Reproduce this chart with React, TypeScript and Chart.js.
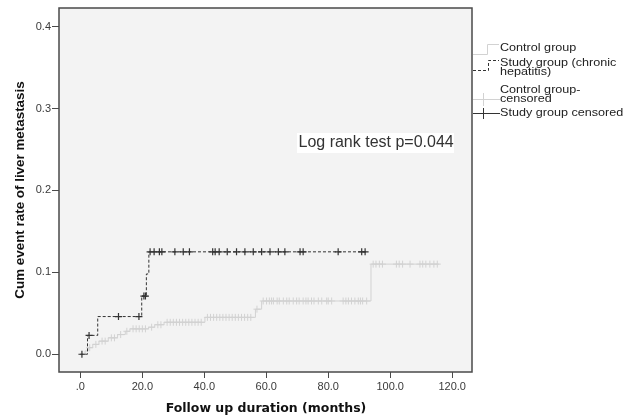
import { useEffect, useRef } from "react";
import { Chart, registerables } from "chart.js";

Chart.register(...registerables);

// Study group (chronic hepatitis): event steps
const studyTimes = [0, 2.3, 5.6, 19.8, 21.3, 22.1, 92.3];
const studyRates = [0, 0.023, 0.046, 0.071, 0.098, 0.125, 0.125];
// Control group: event steps
const controlTimes = [0, 1.5, 2.5, 4, 6, 9, 12, 14.5, 16, 22, 24, 27, 40.2, 56.5, 58.5, 93.8, 115.8];
const controlRates = [0, 0.004, 0.008, 0.012, 0.016, 0.02, 0.024, 0.028, 0.031, 0.033, 0.036, 0.039, 0.045, 0.055, 0.065, 0.11, 0.11];
// Censored observations (months)
const studyCensorTimes = [0.5, 2.8, 12.3, 18.9, 20.5, 21.0, 22.5, 23.8, 25.5, 26.3, 30.5, 33.2, 35.2, 42.7, 43.5, 44.8, 47.4, 50.4, 53.1, 55.8, 58.5, 61.2, 63.9, 66.0, 70.9, 71.9, 83.2, 90.8, 91.9];
const controlCensorTimes = [3, 5, 7, 8, 10, 11, 13, 15, 17, 18, 19, 20, 21, 23, 25, 26, 28, 29, 30, 31, 32, 33, 34, 35, 36, 37, 38, 39, 41, 42, 43, 44, 45, 46, 47, 48, 49, 50, 51, 52, 53, 54, 55, 57, 59, 60.1, 61, 61.7, 62.3, 63.5, 64.2, 65.5, 66.6, 67.4, 68.7, 69.8, 70.6, 71.9, 72.8, 73.5, 74.6, 75.4, 76.8, 77.9, 79.5, 80, 81.1, 84.8, 85.7, 86.5, 87.5, 88.6, 89.7, 90.4, 91.1, 92.4, 94.5, 95.4, 96.5, 97.5, 102, 102.9, 104, 106.4, 109.6, 110.5, 111.5, 112.8, 114.1, 115.2];

const xTicks = [0, 20, 40, 60, 80, 100, 120];
const xTickLabels = [".0", "20.0", "40.0", "60.0", "80.0", "100.0", "120.0"];
const yTicks = [0, 0.1, 0.2, 0.3, 0.4];
const yTickLabels = ["0.0", "0.1", "0.2", "0.3", "0.4"];

const legendLabels = ["Control group", "Study group (chronic", "hepatitis)", "Control group-", "censored", "Study group censored"];
const annotationText = "Log rank test p=0.044";
const xTitle = "Follow up duration (months)";
const yTitle = "Cum event rate of liver metastasis";

const stepAt = (times: number[], rates: number[], t: number) => {
  let v = rates[0];
  for (let i = 0; i < times.length; i++) if (times[i] <= t) v = rates[i];
  return v;
};

const STUDY = "#333333";
const CONTROL = "#d2d2d2";

export default function App() {
  const ref = useRef<HTMLCanvasElement | null>(null);
  useEffect(() => {
    document.body.style.margin = "0";
    const canvas = ref.current!;
    const decor = {
      id: "decor",
      beforeDatasetsDraw(chart: any) {
        const { ctx, chartArea: a } = chart;
        ctx.save();
        ctx.fillStyle = "#f3f3f3";
        ctx.fillRect(a.left, a.top, a.right - a.left, a.bottom - a.top);
        ctx.restore();
      },
      afterDatasetsDraw(chart: any) {
        const { ctx, chartArea: a } = chart;
        ctx.save();
        ctx.strokeStyle = "#4a4a4a";
        ctx.lineWidth = 1.5;
        ctx.strokeRect(a.left, a.top, a.right - a.left, a.bottom - a.top);
        // annotation
        ctx.fillStyle = "#ffffff";
        ctx.fillRect(297, 133, 157, 20);
        ctx.fillStyle = "#333";
        ctx.font = "16px 'Liberation Sans', Arial, sans-serif";
        ctx.textBaseline = "alphabetic";
        ctx.textAlign = "left";
        ctx.fillText(annotationText, 298.5, 147);
        // legend
        ctx.lineWidth = 1;
        ctx.strokeStyle = CONTROL;
        ctx.beginPath();
        ctx.moveTo(473, 54.5); ctx.lineTo(487.5, 54.5); ctx.lineTo(487.5, 44.5); ctx.lineTo(499, 44.5);
        ctx.stroke();
        ctx.strokeStyle = STUDY;
        ctx.setLineDash([3, 2]);
        ctx.beginPath();
        ctx.moveTo(473, 70.5); ctx.lineTo(488.5, 70.5); ctx.lineTo(488.5, 60.5); ctx.lineTo(499, 60.5);
        ctx.stroke();
        ctx.setLineDash([]);
        ctx.strokeStyle = CONTROL;
        ctx.beginPath();
        ctx.moveTo(473, 99.5); ctx.lineTo(500, 99.5);
        ctx.moveTo(483.5, 93); ctx.lineTo(483.5, 106);
        ctx.stroke();
        ctx.strokeStyle = STUDY;
        ctx.beginPath();
        ctx.moveTo(473, 113.5); ctx.lineTo(500, 113.5);
        ctx.moveTo(483.5, 108); ctx.lineTo(483.5, 119);
        ctx.stroke();
        ctx.fillStyle = "#222";
        ctx.font = "10.5px 'Liberation Sans', Arial, sans-serif";
        ctx.textBaseline = "middle";
        const ys = [48, 62.8, 72, 90.6, 99.6, 113.5];
        legendLabels.forEach((t, i) => {
          ctx.save();
          ctx.translate(500, ys[i]);
          ctx.scale(1.2, 1);
          ctx.fillText(t, 0, 0);
          ctx.restore();
        });
        // axis titles
        ctx.fillStyle = "#111";
        ctx.textAlign = "center";
        ctx.textBaseline = "alphabetic";
        ctx.font = "bold 12.5px 'DejaVu Sans', Verdana, sans-serif";
        ctx.fillText(xTitle, 266, 411.5);
        ctx.translate(24, 190);
        ctx.rotate(-Math.PI / 2);
        ctx.font = "bold 13.4px 'Liberation Sans', Arial, sans-serif";
        ctx.fillText(yTitle, 0, 0);
        ctx.restore();
      },
    };

    const chart = new Chart(canvas, {
      type: "line",
      data: {
        datasets: [
          {
            label: "Control group",
            data: controlTimes.map((t, i) => ({ x: t, y: controlRates[i] })),
            borderColor: CONTROL,
            borderWidth: 1,
            stepped: true,
            pointRadius: 0,
            fill: false,
            order: 4,
          },
          {
            label: "Control group-censored",
            type: "scatter",
            data: controlCensorTimes.map((t) => ({ x: t, y: stepAt(controlTimes, controlRates, t) })),
            borderColor: CONTROL,
            backgroundColor: CONTROL,
            pointStyle: "cross",
            pointRadius: 3.5,
            borderWidth: 1,
            showLine: false,
            order: 3,
          } as any,
          {
            label: "Study group (chronic hepatitis)",
            data: studyTimes.map((t, i) => ({ x: t, y: studyRates[i] })),
            borderColor: STUDY,
            borderWidth: 1,
            borderDash: [3, 2],
            stepped: true,
            pointRadius: 0,
            fill: false,
            order: 2,
          },
          {
            label: "Study group censored",
            type: "scatter",
            data: studyCensorTimes.map((t) => ({ x: t, y: stepAt(studyTimes, studyRates, t) })),
            borderColor: STUDY,
            backgroundColor: STUDY,
            pointStyle: "cross",
            pointRadius: 3.5,
            borderWidth: 1.2,
            showLine: false,
            order: 1,
          } as any,
        ],
      },
      options: {
        responsive: false,
        animation: false,
        events: [],
        layout: { padding: { top: 8, right: 158, left: 0, bottom: 0 } },
        plugins: { legend: { display: false }, tooltip: { enabled: false }, title: { display: false } },
        scales: {
          x: {
            type: "linear",
            min: -6.9,
            max: 126.4,
            afterBuildTicks: (s: any) => { s.ticks = xTicks.map((v) => ({ value: v })); },
            afterFit: (s: any) => { s.height = 44; },
            ticks: {
              autoSkip: false,
              maxRotation: 0,
              padding: 2,
              color: "#3a3a3a",
              font: { family: "'Liberation Sans', Arial, sans-serif", size: 11 },
              callback: (v: any) => xTickLabels[xTicks.indexOf(Number(v))] ?? "",
            },
            grid: { display: true, drawOnChartArea: false, drawTicks: true, tickLength: 6, color: "#4a4a4a" },
            border: { display: false },
          },
          y: {
            type: "linear",
            min: -0.0217,
            max: 0.4227,
            afterBuildTicks: (s: any) => { s.ticks = yTicks.map((v) => ({ value: v })); },
            afterFit: (s: any) => { s.width = 59; },
            ticks: {
              autoSkip: false,
              padding: 1,
              color: "#3a3a3a",
              font: { family: "'Liberation Sans', Arial, sans-serif", size: 11 },
              callback: (v: any) => {
                const i = yTicks.findIndex((t) => Math.abs(t - Number(v)) < 1e-9);
                return i >= 0 ? yTickLabels[i] : "";
              },
            },
            grid: { display: true, drawOnChartArea: false, drawTicks: true, tickLength: 7, color: "#4a4a4a" },
            border: { display: false },
          },
        },
      },
      plugins: [decor],
    });
    return () => chart.destroy();
  }, []);
  return <canvas ref={ref} width={630} height={416} style={{ display: "block" }} />;
}
